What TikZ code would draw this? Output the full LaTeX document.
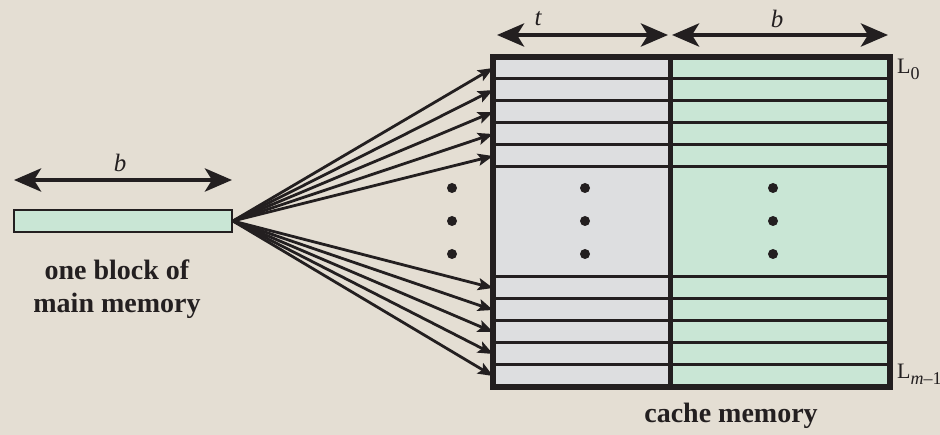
\documentclass[tikz,border=0pt]{standalone}
\usepackage{fontspec}
\setmainfont{Liberation Serif}
\usetikzlibrary{arrows.meta}

\definecolor{paper}{RGB}{228,222,211}
\definecolor{ink}{RGB}{35,31,32}
\definecolor{taggrey}{RGB}{221,222,224}
\definecolor{datagreen}{RGB}{201,230,213}

\newcommand{\linesub}[1]{\raisebox{-6pt}{\fontsize{18}{18}\selectfont #1}}

\begin{document}
\begin{tikzpicture}[x=1pt, y=-1pt]
	\tikzstyle{col} = [
		rectangle, inner sep=0pt, outer sep=0pt, anchor=north west,
		minimum height=330pt
	]
	\tikzstyle{row} = [
		rectangle, draw=ink, line width=3pt, inner sep=0pt, outer sep=0pt,
		anchor=north west, minimum width=397pt, minimum height=22pt
	]
	\tikzstyle{dim} = [
		{Stealth[length=27pt, width=23pt, inset=7pt]}-{Stealth[length=27pt, width=23pt, inset=7pt]},
		draw=ink, line width=4.5pt
	]
	\tikzstyle{conn} = [
		-{Stealth[length=15pt, width=12pt, inset=3pt]}, draw=ink, line width=2.8pt
	]
	\tikzstyle{caption} = [
		font=\fontsize{28}{33}\selectfont\bfseries, text=ink, align=center
	]
	\tikzstyle{lbl} = [
		font=\fontsize{25}{28}\selectfont\itshape, text=ink
	]
	\tikzstyle{linelbl} = [
		font=\fontsize{22}{24}\selectfont, text=ink, anchor=west, inner sep=0pt
	]
	\tikzstyle{dot} = [
		circle, fill=ink, inner sep=0pt, minimum size=10pt
	]

	% background
	\fill[paper] (0,0) rectangle (940,435);
	\useasboundingbox (0,0) rectangle (940,435);

	% Main memory block
	\node (blk) [rectangle, draw=ink, line width=1.8pt, fill=datagreen, inner sep=0pt,
		minimum width=218pt, minimum height=22pt] at (123,221) {};
	\node (blkcap) [caption] at (117,289) {one block of\\main memory};
	\coordinate (blk_l) at (14,180);
	\coordinate (blk_r) at (232,180);
	\draw[dim] (blk_l) -- (blk_r);
	\node (blk_b) [lbl] at (120,163) {b};

	% Cache columns
	\node (tag) [col, fill=taggrey, minimum width=177pt] at (493,57) {};
	\node (data) [col, fill=datagreen, minimum width=220pt] at (670,57) {};

	% Cache lines, oben
	\foreach \i in {0,...,4} {
		\node (top\i) [row] at (493,57+22*\i) {};
	}
	% Cache lines, unten
	\foreach \i in {0,...,4} {
		\node (bot\i) [row] at (493,277+22*\i) {};
	}

	% frame and divider
	\draw[ink, line width=6pt] (tag.north west) rectangle (data.south east);
	\draw[ink, line width=5pt] (tag.north east) -- (tag.south east);

	% dots
	\foreach \y in {188,221,254} {
		\node (dl\y) [dot] at (452,\y) {};
		\node (dt\y) [dot] at (585,\y) {};
		\node (dd\y) [dot] at (773,\y) {};
	}

	% t / b widths
	\coordinate (t_l) at (497,35);
	\coordinate (t_r) at (668,35);
	\coordinate (b_l) at (672,35);
	\coordinate (b_r) at (888,35);
	\draw[dim] (t_l) -- (t_r);
	\draw[dim] (b_l) -- (b_r);
	\node (t_lbl) [lbl] at (538,19) {t};
	\node (b_lbl) [lbl] at (777,19) {b};

	% line labels
	\node (L0) [linelbl] at (897,69) {L\linesub{0}};
	\node (Lm) [linelbl] at (897,374) {L\linesub{\textit{m}–1}};
	\node (cachecap) [caption] at (731,416) {cache memory};

	% block -> cache lines
	\foreach \i in {0,...,4} {
		\draw[conn] (blk.east) -- (top\i.west);
		\draw[conn] (blk.east) -- (bot\i.west);
	}
\end{tikzpicture}
\end{document}
